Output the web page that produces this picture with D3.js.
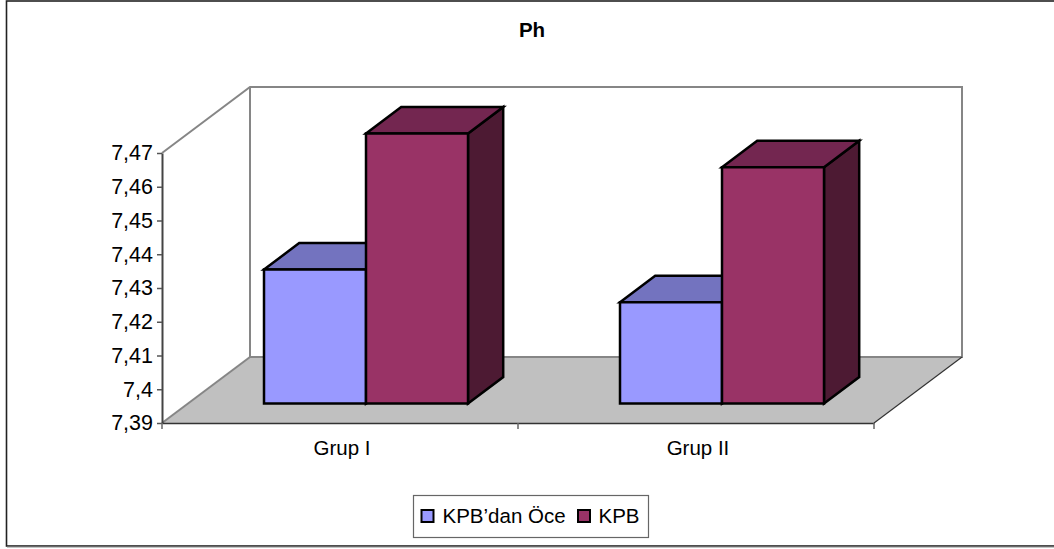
<!DOCTYPE html>
<html><head><meta charset="utf-8">
<script src="https://cdn.jsdelivr.net/npm/d3@7"></script>
<style>
html,body{margin:0;padding:0;background:#fff}
svg{display:block}
text{font-family:"Liberation Sans",Arial,sans-serif;fill:#000}
</style></head><body>
<svg id="c" width="1054" height="549"></svg>
<script>
const categories = ["Grup I", "Grup II"];
const seriesNames = ["KPB’dan Öce", "KPB"];
const valuesBefore = [7.4297, 7.42];
const valuesKPB = [7.47, 7.46];
const tickValues = [7.39, 7.40, 7.41, 7.42, 7.43, 7.44, 7.45, 7.46, 7.47];
const titleText = "Ph";
const frontColors = ["#9999FF", "#993366"];
const topColors = ["#7373BF", "#732650"];
const sideColors = ["#4D4D80", "#4D1A33"];

const svg = d3.select("#c");
const FS = 20.5, TICKFS = 21.5;
const depthX = 88, depthY = -66;
const y = d3.scaleLinear().domain([7.39, 7.47]).range([423, 153]);
const x = d3.scaleBand().domain(categories).range([162, 874]);
const inner = d3.scaleBand().domain(seriesNames).range([0, 204]);
const barFront = 0.2955, barDepth = 0.4;
const pts = a => a.map(p => p.join(",")).join(" ");

// chart frame: runs off the right edge of the picture
svg.append("rect").attr("x", 6.5).attr("y", 1).attr("width", 1060).attr("height", 545)
  .attr("fill", "#fff").attr("stroke", "#222").attr("stroke-width", 1.6);
svg.append("line").attr("x1", 7).attr("x2", 1054).attr("y1", 547.2).attr("y2", 547.2)
  .attr("stroke", "#aaa").attr("stroke-width", 1);

svg.append("text").attr("x", 532).attr("y", 37).attr("text-anchor", "middle")
  .attr("font-size", FS).attr("font-weight", "bold").text(titleText);

const y0 = y.range()[0], y1 = y.range()[1], x0 = x.range()[0], x1 = x.range()[1];

// floor
svg.append("polygon").attr("fill", "#C0C0C0")
  .attr("points", pts([[x0,y0],[x1,y0],[x1+depthX,y0+depthY],[x0+depthX,y0+depthY]]));
// back wall and side wall edges
svg.append("polyline").attr("fill", "none").attr("stroke", "#868686").attr("stroke-width", 2)
  .attr("points", pts([[x0,y1],[x0+depthX,y1+depthY],[x1+depthX,y1+depthY],[x1+depthX,y0+depthY],[x0+depthX,y0+depthY],[x0+depthX,y1+depthY]]));
svg.append("line").attr("stroke", "#868686").attr("stroke-width", 2)
  .attr("x1", x0).attr("y1", y0).attr("x2", x0+depthX).attr("y2", y0+depthY);
svg.append("line").attr("stroke", "#333").attr("stroke-width", 1.2)
  .attr("x1", x1).attr("y1", y0).attr("x2", x1+depthX).attr("y2", y0+depthY);

// bars
const rows = categories.map((c, i) => ({c, vals: [valuesBefore[i], valuesKPB[i]]}));
const sx = barFront*depthX, sy = barFront*depthY, dx = barDepth*depthX, dy = barDepth*depthY;
rows.forEach(r => {
  const cx = x(r.c) + x.bandwidth()/2 + sx - inner.range()[1]/2;
  r.vals.forEach((v, j) => {
    const l = cx + inner(seriesNames[j]), rr = l + inner.bandwidth();
    const b = y(7.39) + sy, t = y(v) + sy;
    const g = svg.append("g").attr("stroke", "#000").attr("stroke-width", 2.5).attr("stroke-linejoin", "miter");
    g.append("polygon").attr("fill", sideColors[j]).attr("points", pts([[rr,t],[rr+dx,t+dy],[rr+dx,b+dy],[rr,b]]));
    g.append("polygon").attr("fill", topColors[j]).attr("points", pts([[l,t],[l+dx,t+dy],[rr+dx,t+dy],[rr,t]]));
    g.append("rect").attr("fill", frontColors[j]).attr("x", l).attr("y", t).attr("width", rr-l).attr("height", b-t);
  });
});

// axes
const yAxis = svg.append("g").attr("transform", `translate(${x0},0)`)
  .call(d3.axisLeft(y).tickValues(tickValues).tickSize(5).tickSizeOuter(0).tickPadding(4)
    .tickFormat(d => String(+d.toFixed(2)).replace(".", ",")));
yAxis.select(".domain").attr("stroke", "#444").attr("stroke-width", 2);
yAxis.selectAll("line").attr("stroke", "#555").attr("stroke-width", 1.5);
yAxis.selectAll("text").attr("font-size", TICKFS).attr("font-family", '"Liberation Sans",Arial,sans-serif').attr("fill", "#000");

const xAxis = svg.append("g").attr("transform", `translate(0,${y0})`)
  .call(d3.axisBottom(x).tickValues([]).tickSize(0));
xAxis.select(".domain").attr("stroke", "#333").attr("stroke-width", 1.5);
[x0, x0 + x.bandwidth(), x1].forEach(px => {
  svg.append("line").attr("x1", px).attr("x2", px).attr("y1", y0).attr("y2", y0+6)
    .attr("stroke", "#666").attr("stroke-width", 1.5);
});
categories.forEach(c => {
  svg.append("text").attr("x", x(c) + x.bandwidth()/2 + 2).attr("y", 455).attr("text-anchor", "middle")
    .attr("font-size", FS).text(c);
});

// legend
svg.append("rect").attr("x", 413.5).attr("y", 495.5).attr("width", 235).attr("height", 42)
  .attr("fill", "#fff").attr("stroke", "#666").attr("stroke-width", 1.2);
[421.5, 578].forEach((lx, i) => {
  svg.append("rect").attr("x", lx).attr("y", 510).attr("width", 12).attr("height", 12)
    .attr("fill", frontColors[i]).attr("stroke", "#000").attr("stroke-width", 2);
});
[442.5, 598.5].forEach((lx, i) => {
  svg.append("text").attr("x", lx).attr("y", 522.5).attr("font-size", FS).text(seriesNames[i]);
});
</script>
</body></html>
